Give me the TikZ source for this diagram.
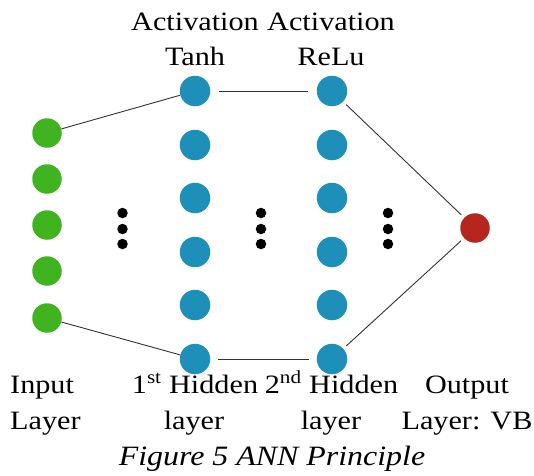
\documentclass[tikz,border=0pt]{standalone}
\usepackage{fontspec}
\setmainfont{Liberation Serif}[FakeStretch=1.14]
\definecolor{ingreen}{RGB}{64,180,32}
\definecolor{hidblue}{RGB}{30,143,184}
\definecolor{outred}{RGB}{180,38,30}
\definecolor{edgegray}{RGB}{50,50,50}
\begin{document}
\begin{tikzpicture}[x=1pt,y=-1pt,
  neuron/.style={circle,inner sep=0pt,minimum size=29.5pt},
  innode/.style={neuron,fill=ingreen},
  hidnode/.style={neuron,fill=hidblue,minimum size=30.5pt},
  outnode/.style={neuron,fill=outred},
  dotnode/.style={circle,fill=black,inner sep=0pt,minimum size=10.5pt},
  conn/.style={draw=edgegray,line width=0.9pt},
  lbl/.style={inner sep=0pt,anchor=base,font=\fontsize{26.5}{32}\selectfont},
  lblw/.style={lbl,anchor=base west}]
\useasboundingbox (0,0) rectangle (534,475);
% input layer
\foreach \i/\y in {1/133,2/179,3/225,4/271,5/318}
  \node[innode] (g\i) at (47,\y) {};
% hidden layers
\foreach \i/\y in {1/91,2/145,3/198,4/252,5/305,6/359}{
  \node[hidnode] (a\i) at (195,\y) {};
  \node[hidnode] (b\i) at (332,\y) {};
}
% output
\node[outnode] (out) at (475,228) {};
% dots
\foreach \c/\x in {p/122.5,q/261,r/388}
  \foreach \j/\y in {1/213,2/229,3/244}
    \node[dotnode] (\c\j) at (\x,\y) {};
% connectors
\draw[conn] (g1) -- (a1);
\draw[conn,shorten <=9pt,shorten >=9pt] (a1) -- (b1);
\draw[conn,shorten <=4pt,shorten >=4pt] (b1) -- (out);
\draw[conn] (g5) -- (a6);
\draw[conn,shorten <=8pt,shorten >=8pt] (a6) -- (b6);
\draw[conn,shorten <=4pt,shorten >=4pt] (b6) -- (out);
% labels
\node[lbl] (t1a) at (195,30) {Activation};
\node[lbl] (t1b) at (195,65) {Tanh};
\node[lbl] (t2a) at (331,30) {Activation};
\node[lbl] (t2b) at (331,65) {ReLu};
\node[lblw] (ina) at (10,393) {Input};
\node[lblw] (inb) at (10,429) {Layer};
\node[lbl] (h1a) at (195,393) {1\textsuperscript{st} Hidden};
\node[lbl] (h1b) at (194,429) {layer};
\node[lbl] (h2a) at (331.5,393) {2\textsuperscript{nd} Hidden};
\node[lbl] (h2b) at (331,429) {layer};
\node[lbl] (oa) at (467,393) {Output};
\node[lbl] (ob) at (467,429) {Layer: VB};
\node[lbl,font=\fontsize{28}{32}\selectfont\itshape] (cap) at (272,465) {Figure 5 ANN Principle};
\end{tikzpicture}
\end{document}
